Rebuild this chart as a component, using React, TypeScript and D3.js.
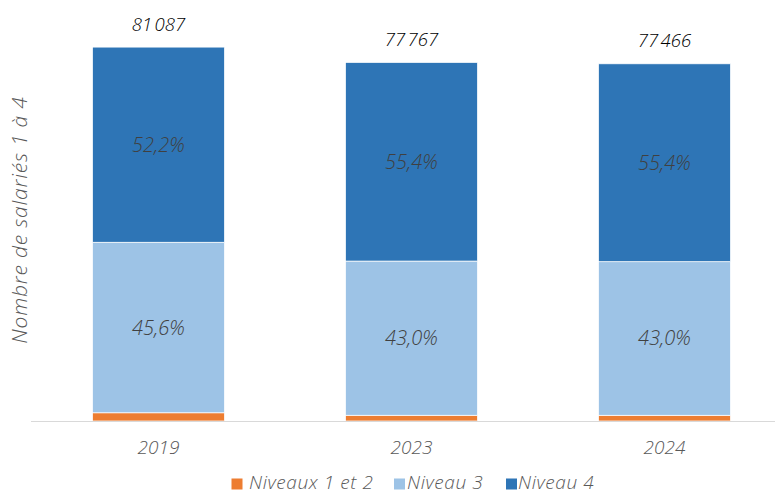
import React from "react";
import * as d3 from "d3";

const years = ["2019", "2023", "2024"];
const totals = [81087, 77767, 77466];
const niveaux12 = [2.2, 1.6, 1.6];
const niveau3 = [45.6, 43.0, 43.0];
const niveau4 = [52.2, 55.4, 55.4];
const seriesNames = ["Niveaux 1 et 2", "Niveau 3", "Niveau 4"];
const seriesColors = ["#ED7D31", "#9DC3E6", "#2E75B6"];
const yLabel = "Nombre de salariés 1 à 4";

const W = 775, H = 496;
const FONT = "'Open Sans', Lato, sans-serif";

function fmtTotal(v: number) {
  const s = String(v);
  return s.slice(0, s.length - 3) + "\u202F" + s.slice(-3);
}
function fmtPct(v: number) {
  return v.toFixed(1).replace(".", ",") + "%";
}

export default function App() {
  const x = d3.scaleBand().domain(years).range([32, 791]).paddingInner(0.478).paddingOuter(0.239);
  const y = d3.scaleLinear().domain([0, 90000]).range([421, 6]);
  const rows = years.map((yr, i) => ({
    year: yr,
    s0: (niveaux12[i] / 100) * totals[i],
    s1: (niveau3[i] / 100) * totals[i],
    s2: (niveau4[i] / 100) * totals[i],
  }));
  const stack = d3.stack<any>().keys(["s0", "s1", "s2"])(rows);
  const pctArrays = [niveaux12, niveau3, niveau4];

  const legendItems = [
    { sx: 231.5, tx: 249 },
    { sx: 394, tx: 407 },
    { sx: 506, tx: 518 },
  ];

  return (
    <svg width={W} height={H} style={{ position: "absolute", left: 0, top: 0 }} fontFamily={FONT} fontWeight={300}>
      <rect x={0} y={0} width={W} height={H} fill="#fff" />
      {stack.map((layer, li) =>
        layer.map((d, i) => (
          <rect
            key={`${li}-${i}`}
            x={x(years[i])}
            y={y(d[1])}
            width={x.bandwidth()}
            height={y(d[0]) - y(d[1])}
            fill={seriesColors[li]}
            stroke="#fff"
            strokeWidth={0.75}
          />
        ))
      )}
      {stack.map((layer, li) =>
        li === 0
          ? null
          : layer.map((d, i) => (
              <text
                key={`l${li}-${i}`}
                x={(x(years[i]) as number) + x.bandwidth() / 2}
                y={(y(d[0]) + y(d[1])) / 2}
                dy="0.35em"
                textAnchor="middle"
                fontSize={20}
                fontStyle="italic"
                fill="#404040"
              >
                {fmtPct(pctArrays[li][i])}
              </text>
            ))
      )}
      {years.map((yr, i) => (
        <text
          key={`t${i}`}
          x={(x(yr) as number) + x.bandwidth() / 2}
          y={y(totals[i]) - 23}
          dy="0.35em"
          textAnchor="middle"
          fontSize={18.5}
          fontStyle="italic"
          fill="#000"
        >
          {fmtTotal(totals[i])}
        </text>
      ))}
      <line x1={31} x2={W} y1={421.5} y2={421.5} stroke="#d9d9d9" strokeWidth={1} />
      {years.map((yr) => (
        <text
          key={`x${yr}`}
          x={(x(yr) as number) + x.bandwidth() / 2}
          y={447}
          dy="0.35em"
          textAnchor="middle"
          fontSize={19}
          fontStyle="italic"
          fill="#595959"
        >
          {yr}
        </text>
      ))}
      <text
        transform={`translate(20,220) rotate(-90)`}
        textAnchor="middle"
        dy="0.35em"
        fontSize={21}
        letterSpacing={0.8}
        fontStyle="italic"
        fill="#595959"
      >
        {yLabel}
      </text>
      {seriesNames.map((n, i) => (
        <g key={n}>
          <rect x={legendItems[i].sx} y={478.5} width={11} height={11} fill={seriesColors[i]} />
          <text x={legendItems[i].tx} y={482.5} dy="0.35em" fontSize={19} letterSpacing={0.6} fontStyle="italic" fill="#595959">
            {n}
          </text>
        </g>
      ))}
    </svg>
  );
}
